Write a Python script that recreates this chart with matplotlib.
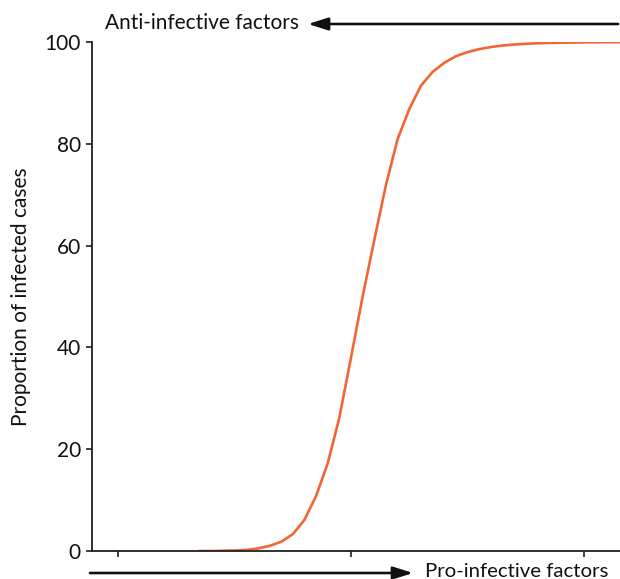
import matplotlib
matplotlib.use("Agg")
import matplotlib.pyplot as plt
from matplotlib.patches import FancyArrowPatch

plt.rcParams['font.family'] = ['Lato', 'DejaVu Sans']

x_vals = [3.5, 4.0, 4.5, 5.0, 5.5, 6.0, 6.5, 7.0, 7.5, 8.0, 8.5, 9.0, 9.5,
          10.0, 10.5, 11.0, 11.5, 12.0, 12.5, 13.0, 13.5, 14.0, 14.5, 15.0,
          15.5, 16.0, 16.5, 17.0, 17.5, 18.0, 18.5, 19.0, 19.5, 20.0, 20.5,
          21.0, 21.5]
proportion = [0.0, 0.0, 0.05, 0.1, 0.2, 0.5, 1.0, 1.8, 3.3, 6.1, 10.8, 17.2,
              26.2, 38.0, 50.0, 61.1, 71.9, 80.9, 86.8, 91.4, 94.1, 95.9,
              97.2, 98.0, 98.6, 99.0, 99.3, 99.5, 99.65, 99.75, 99.82, 99.87,
              99.9, 99.93, 99.95, 99.97, 99.98]
y_ticks = [0, 20, 40, 60, 80, 100]
x_ticks = [0, 10, 20]
y_label = "Proportion of infected cases"
top_label = "Anti-infective factors"
bottom_label = "Pro-infective factors"

W, H = 620, 579
FS = 15
fig = plt.figure(figsize=(W / 100, H / 100), dpi=100)
ax = fig.add_axes([92 / W, (H - 551) / H, (W - 92) / W, 509 / H])

ax.plot(x_vals, proportion, color='#f26535', lw=1.9)
ax.set_xlim(-1.12, 21.55)
ax.set_ylim(0, 100)
ax.set_yticks(y_ticks)
ax.set_xticks(x_ticks)
ax.set_xticklabels([])
for s in ['top', 'right']:
    ax.spines[s].set_visible(False)
for s in ['left', 'bottom']:
    ax.spines[s].set_color('#231f20')
    ax.spines[s].set_linewidth(1.3)
ax.tick_params(axis='both', direction='out', length=4.5, width=1.2,
               color='#231f20', labelsize=FS, labelcolor='#111111', pad=3.5)
ax.set_ylabel(y_label, fontsize=FS, color='#111111', labelpad=10)

arrow_style = '-|>,head_length=12,head_width=3.8'

# top arrow (pointing left)
fig.text(105 / W, 1 - 23 / H, top_label, fontsize=FS, color='#111111',
         ha='left', va='center')
fig.add_artist(FancyArrowPatch(
    (618 / W, 1 - 24 / H), (308 / W, 1 - 24 / H), transform=fig.transFigure,
    arrowstyle=arrow_style, mutation_scale=1,
    color='#111111', lw=1.9, shrinkA=0, shrinkB=0))

# bottom arrow (pointing right)
fig.add_artist(FancyArrowPatch(
    (90 / W, 1 - 573 / H), (413 / W, 1 - 573 / H), transform=fig.transFigure,
    arrowstyle=arrow_style, mutation_scale=1,
    color='#111111', lw=1.9, shrinkA=0, shrinkB=0))
fig.text(425 / W, 1 - 577 / H, bottom_label, fontsize=14.7, color='#111111',
         ha='left', va='baseline')

fig.savefig('out.png', dpi=100)
